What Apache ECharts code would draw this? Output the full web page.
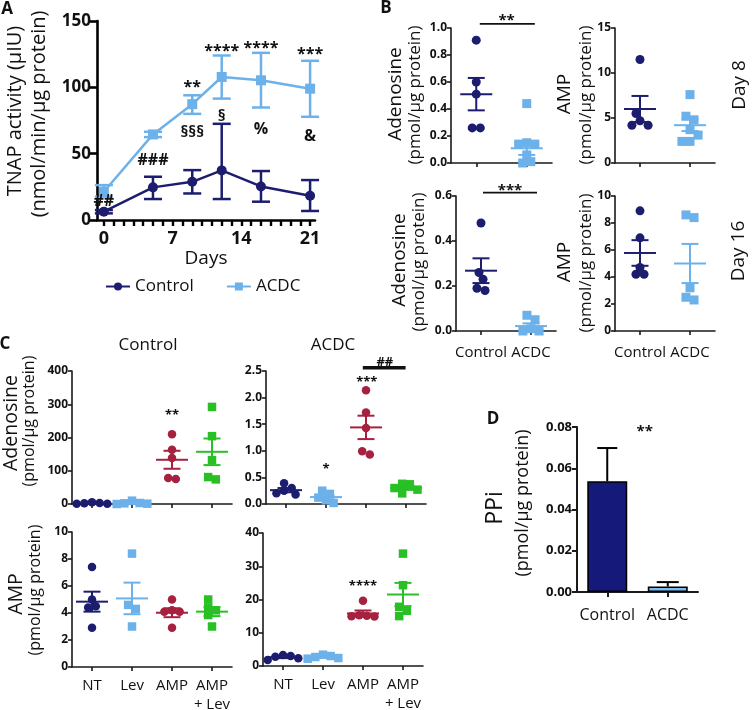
<!DOCTYPE html>
<html><head><meta charset="utf-8">
<script src="https://cdn.jsdelivr.net/npm/echarts@6/dist/echarts.min.js"></script>
<style>html,body{margin:0;padding:0;background:#fff}#c{width:752px;height:710px}</style>
</head><body><div id="c"></div>
<script>
// ================= DATA =================
// Panel A : TNAP activity over days
const daysA = [0, 5, 9, 12, 16, 21];
const ctrlMeanA = [6.3, 24.6, 28.8, 37.4, 25.3, 18.3];
const ctrlHiA   = [7.5, 32.6, 37.6, 72.5, 36.9, 30.1];
const ctrlLoA   = [5.0, 15.8, 20.0, 15.8, 13.8, 6.8];
const acdcMeanA = [21.3, 64.5, 87.3, 107.8, 105.3, 99.0];
const acdcHiA   = [26.3, 66.5, 94.0, 124.0, 126.0, 120.0];
const acdcLoA   = [17.6, 62.5, 80.0, 91.5, 84.8, 77.8];
const dayTicksA = [0,1,2,3,4,5,6,7,8,9,10,11,12,13,14,15,16,17,18,19,20,21];
const dayLabelsA = [0, 7, 14, 21];
const annTextA = ['##', '###', '§§§', '§', '%', '&', '**', '****', '****', '***'];
const annDayA  = [0, 5, 9, 12, 16, 21, 9, 12, 16, 21];
const annValA  = [13.8, 45, 66, 78, 68, 63, 103, 130, 132, 128];

// Panel B : Day 8 / Day 16, Control vs ACDC
const groupsB = ['Control', 'ACDC'];
const b8AdoCtrl = [0.91, 0.60, 0.51, 0.26, 0.26];
const b8AdoAcdc = [0.44, 0.15, 0.14, 0.14, 0.06, 0.01, 0.00];
const b8AdoMean = [0.51, 0.11];
const b8AdoSem  = [0.12, 0.05];
const b8AmpCtrl = [11.5, 5.5, 4.7, 4.2, 4.2];
const b8AmpAcdc = [7.6, 5.2, 4.8, 3.7, 3.1, 2.4, 2.4];
const b8AmpMean = [6.0, 4.2];
const b8AmpSem  = [1.45, 0.65];
const b16AdoCtrl = [0.48, 0.26, 0.23, 0.19, 0.18];
const b16AdoAcdc = [0.07, 0.05, 0.01, 0.00, 0.00];
const b16AdoMean = [0.268, 0.022];
const b16AdoSem  = [0.055, 0.012];
const b16AmpCtrl = [8.9, 6.9, 4.7, 4.2, 4.2];
const b16AmpAcdc = [8.6, 8.4, 3.2, 2.5, 2.3];
const b16AmpMean = [5.78, 5.0];
const b16AmpSem  = [0.95, 1.45];
const annTextB8 = ['**'];   const annXB8 = [0.6];  const annYB8 = [1.084];
const barB8 = [0.07, 1.16, 1.03];
const annTextB16 = ['***']; const annXB16 = [0.58]; const annYB16 = [0.64];
const barB16 = [0.04, 1.12, 0.615];

// Panel C : treatments
const catsC = ['NT', 'Lev', 'AMP', 'AMP\n+ Lev'];
const cCtrlAdoVals = [[5, 3, 2, 1, 1], [10, 3, 2, 1, 0], [210, 163, 138, 78, 75], [292, 204, 132, 81, 74]];
const cCtrlAdoMean = [2.4, 3.2, 133, 157];
const cCtrlAdoSem  = [0.8, 1.8, 27, 40];
const cAcdcAdoVals = [[0.39, 0.30, 0.25, 0.20, 0.18], [0.25, 0.19, 0.12, 0.07, 0.02], [2.14, 1.72, 1.43, 0.99, 0.93], [0.38, 0.37, 0.30, 0.27, 0.20]];
const cAcdcAdoMean = [0.26, 0.13, 1.44, 0.30];
const cAcdcAdoSem  = [0.04, 0.04, 0.22, 0.035];
const cCtrlAmpVals = [[7.4, 5.0, 4.5, 4.4, 2.9], [8.4, 4.6, 4.3, 3.0], [5.0, 4.2, 4.1, 4.1, 2.9], [5.0, 4.4, 4.2, 3.85, 3.0]];
const cCtrlAmpMean = [4.84, 5.08, 4.02, 4.1];
const cCtrlAmpSem  = [0.74, 1.17, 0.33, 0.33];
const cAcdcAmpVals = [[3.3, 3.0, 2.8, 2.3, 1.8], [3.4, 3.0, 2.7, 2.4, 2.2], [19.6, 15.3, 15.0, 14.9, 15.1], [33.8, 24.3, 17.8, 16.6, 15.0]];
const cAcdcAmpMean = [2.64, 2.74, 15.8, 21.5];
const cAcdcAmpSem  = [0.27, 0.2, 0.9, 3.5];
const annTextCCtrlAdo = ['**'];  const annXCCtrlAdo = [2.0];  const annYCCtrlAdo = [277];
const annTextCAcdcAdo = ['*', '***', '##']; const annXCAcdcAdo = [1.0, 2.02, 2.47]; const annYCAcdcAdo = [0.71, 2.35, 2.66];
const barCAcdcAdo = [1.92, 2.99, 2.56];
const annTextCAcdcAmp = ['****']; const annXCAcdcAmp = [2.0]; const annYCAcdcAmp = [25];

// Panel D : PPi
const catsD = ['Control', 'ACDC'];
const ppiMean = [0.0537, 0.0027];
const ppiErr  = [0.0161, 0.0021];
const annTextD = ['**']; const annXD = [0.62]; const annYD = [0.0794];

// ================= STYLE =================
const FF = "'Open Sans', 'DejaVu Sans', sans-serif";
const NAVY = '#1c1d6e', LBLUE = '#6db1ea', RED = '#a6213f', GREEN = '#29c026';
const NAVY_BAR = '#15197a', LBLUE_BAR = '#79bbef';
const AXC = '#1a1a1a';
const INK = '#111';

const grids = [], xAxes = [], yAxes = [], series = [];

// compact beeswarm: pixel offsets, then centre each touching cluster
function swarm(vals, pxPerUnit, size) {
  const order = vals.map((v, i) => i).sort((a, b) => vals[b] - vals[a]);
  const off = new Array(vals.length).fill(0);
  const placed = [];
  const minD = size * 0.85, step = size * 0.45;
  order.forEach(i => {
    const y = vals[i] * pxPerUnit;
    for (let k = 0; k < 60; k++) {
      const cand = k === 0 ? 0 : (k % 2 ? 1 : -1) * Math.ceil(k / 2) * step;
      if (placed.every(p => Math.hypot(p.x - cand, p.y - y) >= minD)) { off[i] = cand; placed.push({ x: cand, y: y }); break; }
    }
  });
  let cl = [order[0]];
  const fix = () => {
    if (cl.length < 2) return;
    const xs = cl.map(j => off[j]);
    const c = (Math.min.apply(null, xs) + Math.max.apply(null, xs)) / 2;
    cl.forEach(j => { off[j] -= c; });
  };
  for (let t = 1; t < order.length; t++) {
    const prev = cl[cl.length - 1], cur = order[t];
    if ((vals[prev] - vals[cur]) * pxPerUnit < size) cl.push(cur); else { fix(); cl = [cur]; }
  }
  fix();
  return off;
}

function meanSem(colors, halfW, capW, lw) {
  return function (params, api) {
    const x = api.value(0), m = api.value(1), s = api.value(2);
    const pm = api.coord([x, m]), pt = api.coord([x, m + s]), pb = api.coord([x, m - s]);
    const st = { stroke: colors[params.dataIndex], lineWidth: lw, fill: null };
    return { type: 'group', children: [
      { type: 'line', shape: { x1: pm[0] - halfW, y1: pm[1], x2: pm[0] + halfW, y2: pm[1] }, style: st },
      { type: 'line', shape: { x1: pt[0], y1: pt[1], x2: pb[0], y2: pb[1] }, style: st },
      { type: 'line', shape: { x1: pt[0] - capW, y1: pt[1], x2: pt[0] + capW, y2: pt[1] }, style: st },
      { type: 'line', shape: { x1: pb[0] - capW, y1: pb[1], x2: pb[0] + capW, y2: pb[1] }, style: st }
    ]};
  };
}

function addTexts(xi, yi, texts, xs, ys, size) {
  series.push({
    type: 'custom', xAxisIndex: xi, yAxisIndex: yi, silent: true, z: 5, clip: false,
    data: xs.map((x, i) => [x, ys[i]]),
    renderItem: function (params, api) {
      const p = api.coord([api.value(0), api.value(1)]);
      const t = texts[params.dataIndex];
      const star = /^\*+$/.test(t);
      return { type: 'text', x: p[0], y: p[1] + (star ? size * 0.25 : 0),
        style: { text: t, fill: INK, font: 'bold ' + size + 'px ' + FF, align: 'center', verticalAlign: 'middle' } };
    }
  });
}

function addBar(xi, yi, bar, lw) {
  series.push({
    type: 'custom', xAxisIndex: xi, yAxisIndex: yi, silent: true, z: 5, clip: false,
    data: [bar],
    renderItem: function (params, api) {
      const a = api.coord([api.value(0), api.value(2)]), b = api.coord([api.value(1), api.value(2)]);
      return { type: 'line', shape: { x1: a[0], y1: a[1], x2: b[0], y2: b[1] }, style: { stroke: INK, lineWidth: lw } };
    }
  });
}

function dotPanel(o) {
  const g = grids.length;
  grids.push({ left: o.box[0], top: o.box[1], width: o.box[2], height: o.box[3], outerBoundsMode: 'none' });
  const nc = o.cats.length;
  const xc = xAxes.length;
  xAxes.push({ type: 'category', gridIndex: g, data: o.cats, boundaryGap: true,
    axisLine: { show: true, onZero: false, lineStyle: { color: AXC, width: 1.6 } },
    axisTick: { show: true, alignWithLabel: true, length: 4, lineStyle: { color: AXC, width: 1.6 } },
    axisLabel: { show: !!o.showX, interval: 0, hideOverlap: false, margin: o.xMargin || 10, fontSize: o.xFont || 15, color: INK, lineHeight: 19, fontFamily: FF },
    splitLine: { show: false } });
  const xv = xAxes.length;
  xAxes.push({ type: 'value', gridIndex: g, show: false, min: -0.5, max: nc - 0.5, splitLine: { show: false } });
  const yi = yAxes.length;
  yAxes.push({ type: 'value', gridIndex: g, min: 0, max: o.ymax, interval: o.yint,
    axisLine: { show: true, onZero: false, lineStyle: { color: AXC, width: 1.6 } },
    axisTick: { show: true, length: 4, lineStyle: { color: AXC, width: 1.6 } },
    axisLabel: { fontSize: o.yFont || 11, fontWeight: 'bold', color: INK, margin: 4, fontFamily: FF, hideOverlap: false,
      formatter: v => v.toFixed(o.dec || 0) },
    splitLine: { show: false } });
  const pxPerUnit = o.box[3] / o.ymax, pxPerCat = o.box[2] / nc;
  o.groups.forEach((vals, ci) => {
    const off = swarm(vals, pxPerUnit, o.size);
    series.push({ type: 'scatter', xAxisIndex: xv, yAxisIndex: yi, symbol: o.symbols[ci], symbolSize: o.size,
      itemStyle: { color: o.colors[ci], opacity: 1 }, silent: true, z: 2,
      data: vals.map((v, i) => [ci + off[i] / pxPerCat, v]) });
  });
  series.push({ type: 'custom', xAxisIndex: xv, yAxisIndex: yi, silent: true, z: 3, clip: false,
    data: o.means.map((m, i) => [i, m, o.sems[i]]),
    renderItem: meanSem(o.colors, o.halfW, o.capW, 2) });
  return { g, xc, xv, yi };
}

// ================= PANEL A =================
const gA = grids.length;
grids.push({ left: 97, top: 21, width: 218, height: 199, outerBoundsMode: 'none' });
const xA = xAxes.length;
xAxes.push({ type: 'value', gridIndex: gA, min: -0.7, max: 21.5,
  axisLine: { show: true, onZero: false, lineStyle: { color: '#000', width: 2.6 } },
  axisTick: { show: true, customValues: dayTicksA, length: 6, lineStyle: { color: '#000', width: 2.4 } },
  axisLabel: { customValues: dayLabelsA, fontSize: 18, fontWeight: 'bold', color: INK, margin: 10, fontFamily: FF },
  splitLine: { show: false },
  name: 'Days', nameLocation: 'middle', nameGap: 26, nameTextStyle: { fontSize: 19, color: INK, fontFamily: FF } });
const yA = yAxes.length;
yAxes.push({ type: 'value', gridIndex: gA, min: 0, max: 150, interval: 50,
  axisLine: { show: true, onZero: false, lineStyle: { color: '#000', width: 2.6 } },
  axisTick: { show: true, length: 8, lineStyle: { color: '#000', width: 2.6 } },
  axisLabel: { fontSize: 17, fontWeight: 'bold', color: INK, margin: 6, fontFamily: FF },
  splitLine: { show: false } });

function errRender(color, capW, lw) {
  return function (params, api) {
    const x = api.value(0);
    const lo = api.coord([x, api.value(1)]), hi = api.coord([x, api.value(2)]);
    const st = { stroke: color, lineWidth: lw };
    return { type: 'group', children: [
      { type: 'line', shape: { x1: lo[0], y1: lo[1], x2: hi[0], y2: hi[1] }, style: st },
      { type: 'line', shape: { x1: hi[0] - capW, y1: hi[1], x2: hi[0] + capW, y2: hi[1] }, style: st },
      { type: 'line', shape: { x1: lo[0] - capW, y1: lo[1], x2: lo[0] + capW, y2: lo[1] }, style: st }
    ]};
  };
}
series.push({ type: 'custom', xAxisIndex: xA, yAxisIndex: yA, silent: true, z: 1, clip: false,
  data: daysA.map((d, i) => [d, acdcLoA[i], acdcHiA[i]]), renderItem: errRender(LBLUE, 9, 2.5) });
series.push({ type: 'custom', xAxisIndex: xA, yAxisIndex: yA, silent: true, z: 1, clip: false,
  data: daysA.map((d, i) => [d, ctrlLoA[i], ctrlHiA[i]]), renderItem: errRender(NAVY, 9, 2.5) });
series.push({ name: 'ACDC', type: 'line', xAxisIndex: xA, yAxisIndex: yA, z: 2,
  data: daysA.map((d, i) => [d, acdcMeanA[i]]), symbol: 'rect', symbolSize: 10, showAllSymbol: true,
  lineStyle: { color: LBLUE, width: 2.5 }, itemStyle: { color: LBLUE }, silent: true });
series.push({ name: 'Control', type: 'line', xAxisIndex: xA, yAxisIndex: yA, z: 2,
  data: daysA.map((d, i) => [d, ctrlMeanA[i]]), symbol: 'circle', symbolSize: 10, showAllSymbol: true,
  lineStyle: { color: NAVY, width: 2.5 }, itemStyle: { color: NAVY }, silent: true });
addTexts(xA, yA, annTextA, annDayA, annValA, 16);

// ================= PANEL B =================
const bCommon = { cats: groupsB, colors: [NAVY, LBLUE], symbols: ['circle', 'rect'], size: 9, halfW: 16, capW: 8.5, yFont: 12 };
const pB8Ado = dotPanel(Object.assign({}, bCommon, { box: [451, 28, 101, 135], ymax: 1.0, yint: 0.2, dec: 1,
  groups: [b8AdoCtrl, b8AdoAcdc], means: b8AdoMean, sems: b8AdoSem, showX: false }));
addBar(pB8Ado.xv, pB8Ado.yi, barB8, 1.8);
addTexts(pB8Ado.xv, pB8Ado.yi, annTextB8, annXB8, annYB8, 15);
const pB8Amp = dotPanel(Object.assign({}, bCommon, { box: [615, 28, 100, 135], ymax: 15, yint: 5, dec: 0,
  groups: [b8AmpCtrl, b8AmpAcdc], means: b8AmpMean, sems: b8AmpSem, showX: false }));
const pB16Ado = dotPanel(Object.assign({}, bCommon, { box: [456, 196, 100, 135], ymax: 0.6, yint: 0.2, dec: 1,
  groups: [b16AdoCtrl, b16AdoAcdc], means: b16AdoMean, sems: b16AdoSem, showX: true, xMargin: 12, xFont: 15 }));
addBar(pB16Ado.xv, pB16Ado.yi, barB16, 1.8);
addTexts(pB16Ado.xv, pB16Ado.yi, annTextB16, annXB16, annYB16, 15);
const pB16Amp = dotPanel(Object.assign({}, bCommon, { box: [615, 196, 100, 135], ymax: 10, yint: 2, dec: 0,
  groups: [b16AmpCtrl, b16AmpAcdc], means: b16AmpMean, sems: b16AmpSem, showX: true, xMargin: 12, xFont: 15 }));

// ================= PANEL C =================
const cCommon = { cats: catsC, colors: [NAVY, LBLUE, RED, GREEN], symbols: ['circle', 'rect', 'circle', 'rect'], size: 8.5, halfW: 16, capW: 8.5, yFont: 12, xFont: 15, xMargin: 9 };
const pCCtrlAdo = dotPanel(Object.assign({}, cCommon, { box: [72, 371, 160, 133], ymax: 400, yint: 100, dec: 0,
  groups: cCtrlAdoVals, means: cCtrlAdoMean, sems: cCtrlAdoSem, showX: false }));
addTexts(pCCtrlAdo.xv, pCCtrlAdo.yi, annTextCCtrlAdo, annXCCtrlAdo, annYCCtrlAdo, 13);
const pCAcdcAdo = dotPanel(Object.assign({}, cCommon, { box: [266, 371, 160, 133], ymax: 2.5, yint: 0.5, dec: 1,
  groups: cAcdcAdoVals, means: cAcdcAdoMean, sems: cAcdcAdoSem, showX: false }));
addBar(pCAcdcAdo.xv, pCAcdcAdo.yi, barCAcdcAdo, 3.5);
addTexts(pCAcdcAdo.xv, pCAcdcAdo.yi, annTextCAcdcAdo, annXCAcdcAdo, annYCAcdcAdo, 13);
const pCCtrlAmp = dotPanel(Object.assign({}, cCommon, { box: [72, 532, 160, 135], ymax: 10, yint: 2, dec: 0,
  groups: cCtrlAmpVals, means: cCtrlAmpMean, sems: cCtrlAmpSem, showX: true }));
const pCAcdcAmp = dotPanel(Object.assign({}, cCommon, { box: [263, 533, 160, 133], ymax: 40, yint: 10, dec: 0,
  groups: cAcdcAmpVals, means: cAcdcAmpMean, sems: cAcdcAmpSem, showX: true }));
addTexts(pCAcdcAmp.xv, pCAcdcAmp.yi, annTextCAcdcAmp, annXCAcdcAmp, annYCAcdcAmp, 13);

// ================= PANEL D =================
const gD = grids.length;
grids.push({ left: 577, top: 427, width: 121, height: 165, outerBoundsMode: 'none' });
const xD = xAxes.length;
xAxes.push({ type: 'category', gridIndex: gD, data: catsD, boundaryGap: true,
  axisLine: { show: true, onZero: false, lineStyle: { color: AXC, width: 2 } },
  axisTick: { show: true, alignWithLabel: true, length: 5, lineStyle: { color: AXC, width: 2 } },
  axisLabel: { interval: 0, margin: 15, fontSize: 16, color: INK, fontFamily: FF }, splitLine: { show: false } });
const xDv = xAxes.length;
xAxes.push({ type: 'value', gridIndex: gD, show: false, min: -0.5, max: 1.5, splitLine: { show: false } });
const yD = yAxes.length;
yAxes.push({ type: 'value', gridIndex: gD, min: 0, max: 0.08, interval: 0.02,
  axisLine: { show: true, onZero: false, lineStyle: { color: AXC, width: 2 } },
  axisTick: { show: true, length: 5, lineStyle: { color: AXC, width: 2 } },
  axisLabel: { fontSize: 13, fontWeight: 'bold', color: INK, margin: 5, fontFamily: FF, formatter: v => v.toFixed(2) },
  splitLine: { show: false } });
series.push({ type: 'bar', xAxisIndex: xD, yAxisIndex: yD, barWidth: 40, silent: true, z: 2,
  data: ppiMean.map((v, i) => ({ value: v, itemStyle: { color: [NAVY_BAR, LBLUE_BAR][i] } })),
  itemStyle: { borderColor: '#000', borderWidth: 1.6 } });
series.push({ type: 'custom', xAxisIndex: xD, yAxisIndex: yD, silent: true, z: 1, clip: false,
  data: ppiMean.map((v, i) => [i, v, ppiErr[i]]),
  renderItem: function (params, api) {
    const i = api.value(0), m = api.value(1), e = api.value(2);
    const a = api.coord([i, m]), b = api.coord([i, m + e]);
    const cw = params.dataIndex === 0 ? 10 : 11;
    const st = { stroke: '#000', lineWidth: 2 };
    return { type: 'group', children: [
      { type: 'line', shape: { x1: a[0], y1: a[1], x2: b[0], y2: b[1] }, style: st },
      { type: 'line', shape: { x1: b[0] - cw, y1: b[1], x2: b[0] + cw, y2: b[1] }, style: st }
    ]};
  } });
addTexts(xDv, yD, annTextD, annXD, annYD, 15);

// ================= TEXT: titles, axis titles =================
function txt(t, x, y, size, bold, rot) {
  return { type: 'text', x: x, y: y, rotation: rot || 0, silent: true,
    style: { text: t, fill: INK, font: (bold ? 'bold ' : '') + size + 'px ' + FF, align: 'center', verticalAlign: 'middle' } };
}
const R = Math.PI / 2;
const UNIT = '(pmol/µg protein)';
const graphic = [
  txt('A', 7, 9, 17, true), txt('B', 386, 8, 17, true), txt('C', 5, 344, 17, true), txt('D', 493, 419, 17, true),
  txt('Control', 148, 345, 17, false), txt('ACDC', 333, 345, 17, false),
  txt('Day 8', 740, 85, 19, false, R), txt('Day 16', 739, 251, 19, false, R),
  // panel A y title
  txt('TNAP activity (µIU)', 15, 111, 20, false, R), txt('(nmol/min/µg protein)', 39, 114, 20, false, R),
  // panel B y titles
  txt('Adenosine', 396, 94, 19, false, R), txt(UNIT, 415, 95, 17, false, R),
  txt('AMP', 565, 94, 19, false, R), txt(UNIT, 586, 95, 17, false, R),
  txt('Adenosine', 400, 260, 19, false, R), txt(UNIT, 419, 262, 17, false, R),
  txt('AMP', 565, 262, 19, false, R), txt(UNIT, 586, 263, 17, false, R),
  // panel C y titles
  txt('Adenosine', 11, 423, 19.5, false, R), txt(UNIT, 29, 421, 16, false, R),
  txt('AMP', 16, 594, 19.5, false, R), txt(UNIT, 35, 590, 16, false, R),
  // panel D y title
  txt('PPi', 495, 508, 23, false, R), txt(UNIT, 523, 503, 18, false, R)
];

const chart = echarts.init(document.getElementById('c'), null, { renderer: 'canvas' });
chart.setOption({
  animation: false,
  backgroundColor: '#fff',
  textStyle: { fontFamily: FF },
  grid: grids, xAxis: xAxes, yAxis: yAxes, series: series,
  legend: { data: ['Control', 'ACDC'], left: 100, top: 273, itemWidth: 24, itemHeight: 10, itemGap: 32,
    textStyle: { fontSize: 17, color: INK, fontFamily: FF } },
  graphic: graphic
});
</script></body></html>
